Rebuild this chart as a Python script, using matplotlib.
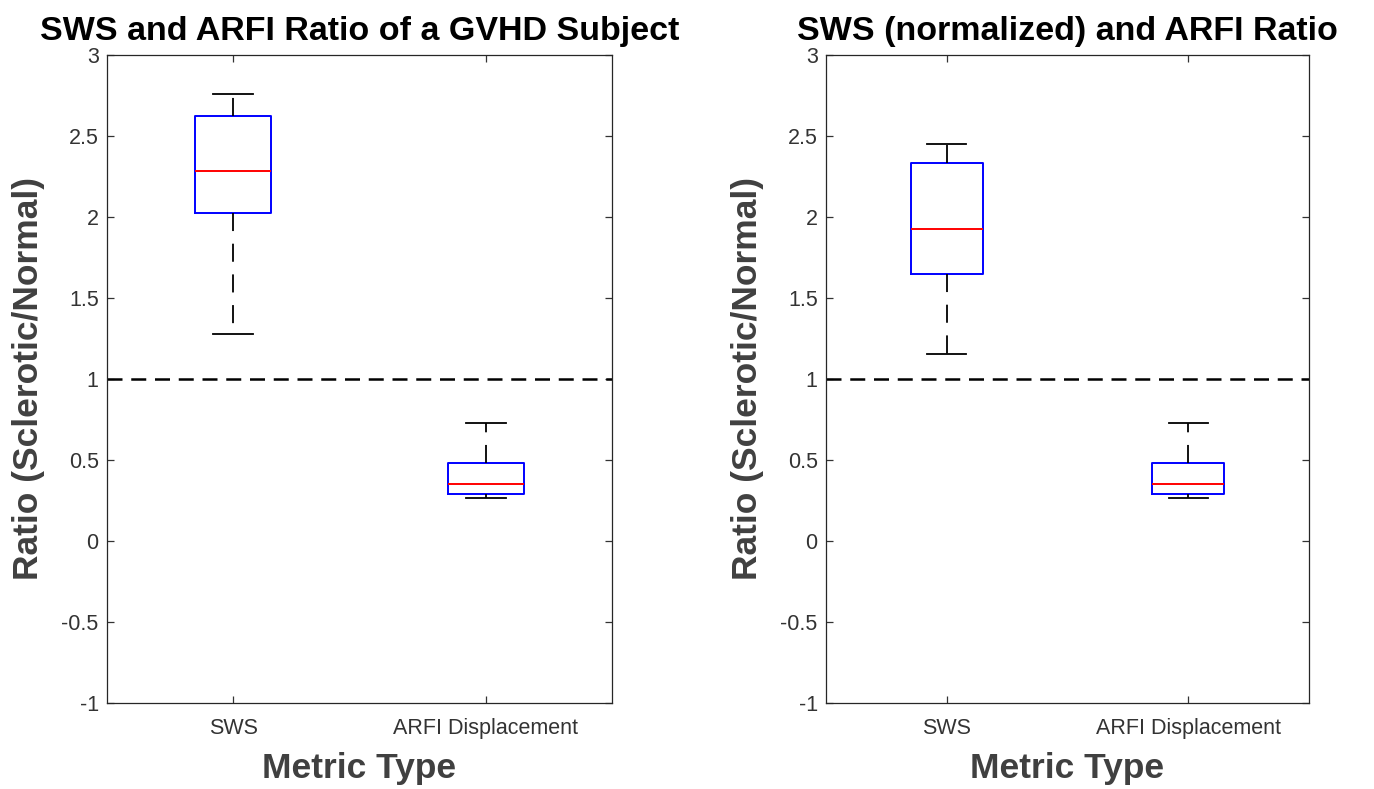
import matplotlib.pyplot as plt

plt.rcParams['font.family'] = ['Liberation Sans', 'DejaVu Sans']
plt.rcParams['axes.unicode_minus'] = False

categories = ['SWS', 'ARFI Displacement']
titles = ['SWS and ARFI Ratio of a GVHD Subject', 'SWS (normalized) and ARFI Ratio']

# box stats: [SWS, ARFI]
left_med = [2.284, 0.352]
left_q1 = [2.025, 0.288]
left_q3 = [2.623, 0.483]
left_lo = [1.278, 0.265]
left_hi = [2.762, 0.727]

right_med = [1.926, 0.352]
right_q1 = [1.650, 0.288]
right_q3 = [2.335, 0.483]
right_lo = [1.154, 0.265]
right_hi = [2.451, 0.727]

yticks = [-1, -0.5, 0, 0.5, 1, 1.5, 2, 2.5, 3]
ytick_labels = ['-1', '-0.5', '0', '0.5', '1', '1.5', '2', '2.5', '3']

fig = plt.figure(figsize=(13.74, 7.89), dpi=100)
ax1 = fig.add_axes([107 / 1374, 86 / 789, 505 / 1374, 648 / 789])
ax2 = fig.add_axes([826 / 1374, 86 / 789, 483 / 1374, 648 / 789])

axcol = '#262626'


def draw(ax, title, med, q1, q3, lo, hi):
    stats = []
    for i in range(len(categories)):
        stats.append({'med': med[i], 'q1': q1[i], 'q3': q3[i],
                      'whislo': lo[i], 'whishi': hi[i], 'fliers': []})
    ax.bxp(stats, positions=[1, 2], widths=0.3, showfliers=False,
           boxprops=dict(color='blue', linewidth=1.4),
           medianprops=dict(color='red', linewidth=1.4),
           whiskerprops=dict(color='black', linewidth=1.3, linestyle=(0, (10, 7))),
           capprops=dict(color='black', linewidth=1.3),
           capwidths=0.16)
    ax.axhline(1, color='black', linewidth=1.8, linestyle=(0, (6, 3.5)))
    ax.set_xlim(0.5, 2.5)
    ax.set_ylim(-1, 3)
    ax.set_xticks([1, 2])
    ax.set_xticklabels(categories)
    ax.set_yticks(yticks)
    ax.set_yticklabels(ytick_labels)
    ax.tick_params(direction='in', top=True, right=True, length=5, width=0.9,
                   colors='#333333', labelsize=15.5)
    ax.tick_params(axis='x', pad=11)
    ax.tick_params(axis='y', pad=6)
    for s in ax.spines.values():
        s.set_color(axcol)
        s.set_linewidth(0.9)
    ax.set_title(title, fontsize=24.5, fontweight='bold', color='black', pad=11)
    ax.set_xlabel('Metric Type', fontsize=25.5, fontweight='bold', color='#404040', labelpad=9)
    ax.set_ylabel('Ratio (Sclerotic/Normal)', fontsize=25.5, fontweight='bold', color='#404040', labelpad=12)


draw(ax1, titles[0], left_med, left_q1, left_q3, left_lo, left_hi)
draw(ax2, titles[1], right_med, right_q1, right_q3, right_lo, right_hi)

fig.savefig('out.png', dpi=100)
